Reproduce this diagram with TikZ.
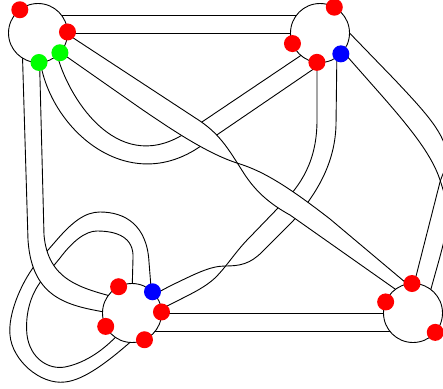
\documentclass[tikz,border=0pt]{standalone}
\definecolor{dred}{RGB}{255,0,0}
\definecolor{dblue}{RGB}{0,0,255}
\definecolor{dgreen}{RGB}{0,255,0}
\begin{document}
\begin{tikzpicture}[x=1pt,y=-1pt,
  edge/.style={draw=black,line width=0.9pt},
  vtx/.style={circle,draw=black,fill=white,line width=0.9pt,minimum size=59pt,inner sep=0pt,outer sep=0pt},
  dotmark/.style={circle,minimum size=17pt,inner sep=0pt,outer sep=0pt}]
\useasboundingbox (0,0) rectangle (443,388);
\clip (0,0) rectangle (443,388);

% loop band at C
\draw[edge] (152,300) -- (149,262) .. controls (147,225) and (125,212) .. (100,212) .. controls (85,212) and (72,222) .. (55,242) -- (35,265) .. controls (20,285) and (8,315) .. (10,335) .. controls (12,360) and (40,385) .. (65,382) .. controls (85,380) and (110,360) .. (135,338);
\draw[edge] (132,295) -- (133,258) .. controls (134,238) and (118,231) .. (97,231) .. controls (85,231) and (72,242) .. (60,258) -- (42,280) .. controls (30,295) and (25,315) .. (27,335) .. controls (30,358) and (48,370) .. (65,367) .. controls (85,363) and (105,350) .. (122,330);

% U band A-B
\draw[edge] (38,46) -- (40,60) .. controls (50,130) and (130,200) .. (205,143) -- (315,68);
\draw[edge] (54,45) -- (58,58) .. controls (70,100) and (120,180) .. (190,130) -- (306,52);

% B-C band (twisted)
\draw[edge] (317,45) -- (317,120) .. controls (317,160) and (302,185) .. (278,208) -- (250,237) .. controls (235,252) and (228,265) .. (215,278) .. controls (205,287) and (195,292) .. (175,302) -- (145,317);
\draw[edge] (337,45) -- (336,125) .. controls (335,160) and (320,190) .. (293,221) -- (262,252) .. controls (250,264) and (240,266) .. (225,266) .. controls (210,266) and (195,274) .. (170,286) -- (140,302);

% B-D band (twisted)
\draw[edge] (335,18) -- (395,80) .. controls (425,112) and (447,135) .. (447,158) .. controls (447,168) and (443,172) .. (440,182) -- (412,292);
\draw[edge] (338,46) -- (383,97) .. controls (410,128) and (432,155) .. (440,180) .. controls (444,192) and (448,205) .. (447,220) .. controls (446,240) and (438,262) .. (428,300);

% C-D band
\draw[edge] (132,313) -- (413,313);
\draw[edge] (132,331) -- (413,331);

% A-B top band
\draw[edge] (38,15) -- (320,15);
\draw[edge] (38,33) -- (320,33);

% A-C band (over the loop)
\fill[white] (22,40) -- (28,240) .. controls (32,300) and (70,306) .. (110,313) -- (118,298) .. controls (80,288) and (48,280) .. (44,235) -- (39,40) -- cycle;
\draw[edge] (22,40) -- (28,240) .. controls (32,300) and (70,306) .. (110,313);
\draw[edge] (39,40) -- (44,235) .. controls (48,280) and (80,288) .. (118,298);

% A-D band (twisted, on top)
\fill[white] (55,26) -- (200,121) .. controls (222,136) and (230,152) .. (245,175) .. controls (255,190) and (268,203) .. (290,215) -- (405,296) -- (418,293) -- (330,219) .. controls (290,188) and (265,172) .. (240,164) .. controls (210,155) and (175,132) .. (140,108) -- (50,45) -- cycle;
\draw[edge] (55,26) -- (200,121) .. controls (222,136) and (230,152) .. (245,175) .. controls (255,190) and (268,203) .. (290,215) -- (405,296);
\draw[edge] (50,45) -- (140,108) .. controls (175,132) and (210,155) .. (240,164) .. controls (265,172) and (290,188) .. (330,219) -- (418,293);

% vertices
\node[vtx] (A) at (38,33) {};
\node[vtx] (B) at (320,33) {};
\node[vtx] (C) at (132,313) {};
\node[vtx] (D) at (413,313) {};

% marked points
\node[dotmark,fill=dred] (a1) at (A.128) {};
\node[dotmark,fill=dred] (a2) at (A.2) {};
\node[dotmark,fill=dgreen] (a3) at (A.-42) {};
\node[dotmark,fill=dgreen] (a4) at (A.-88) {};

\node[dotmark,fill=dred] (b1) at (B.61) {};
\node[dotmark,fill=dred] (b2) at (B.201) {};
\node[dotmark,fill=dred] (b3) at (B.264) {};
\node[dotmark,fill=dblue] (b4) at (B.-45) {};

\node[dotmark,fill=dred] (c1) at (C.117) {};
\node[dotmark,fill=dblue] (c2) at (C.46) {};
\node[dotmark,fill=dred] (c3) at (C.2) {};
\node[dotmark,fill=dred] (c4) at (C.207) {};
\node[dotmark,fill=dred] (c5) at (C.-65) {};

\node[dotmark,fill=dred] (d1) at (D.92) {};
\node[dotmark,fill=dred] (d2) at (D.158) {};
\node[dotmark,fill=dred] (d3) at (D.-41) {};
\end{tikzpicture}
\end{document}
